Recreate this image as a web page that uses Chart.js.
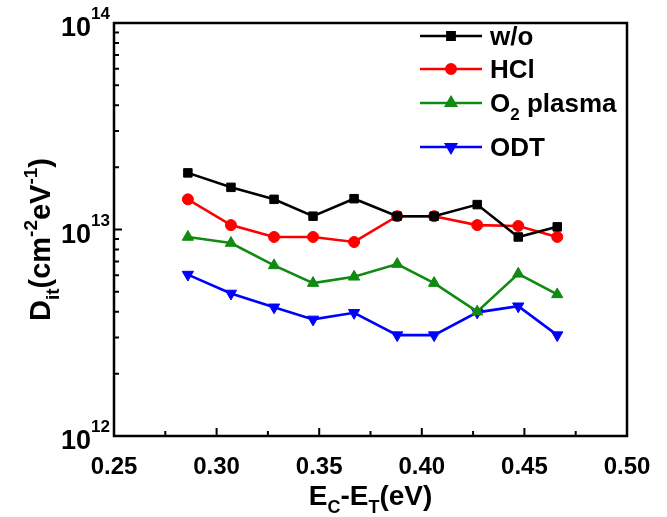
<!DOCTYPE html>
<html>
<head>
<meta charset="utf-8">
<script src="https://cdn.jsdelivr.net/npm/chart.js@4"></script>
<style>
html,body{margin:0;padding:0;background:#fff;}
#wrap{width:667px;height:517px;position:relative;}
</style>
</head>
<body>
<div id="wrap"><canvas id="c" width="667" height="517"></canvas></div>
<script>
// ---- data ----
const xValues = [0.286, 0.307, 0.328, 0.347, 0.367, 0.388, 0.406, 0.427, 0.447, 0.466];
const woValues = [1.88e13, 1.60e13, 1.40e13, 1.16e13, 1.41e13, 1.16e13, 1.16e13, 1.32e13, 9.2e12, 1.03e13];
const hclValues = [1.40e13, 1.05e13, 9.2e12, 9.2e12, 8.7e12, 1.16e13, 1.16e13, 1.05e13, 1.04e13, 9.2e12];
const o2Values = [9.2e12, 8.6e12, 6.7e12, 5.5e12, 5.9e12, 6.8e12, 5.5e12, 4.0e12, 6.1e12, 4.85e12];
const odtValues = [6.05e12, 4.9e12, 4.2e12, 3.67e12, 3.95e12, 3.08e12, 3.08e12, 3.97e12, 4.25e12, 3.08e12];
const seriesNames = ['w/o', 'HCl', 'O2 plasma', 'ODT'];
const xTickValues = [0.25, 0.30, 0.35, 0.40, 0.45, 0.50];
const xTickLabels = ['0.25', '0.30', '0.35', '0.40', '0.45', '0.50'];
const xMinorTicks = [0.275, 0.325, 0.375, 0.425, 0.475];
const yTickExponents = [12, 13, 14];

const FONT = "'Liberation Sans', Arial, sans-serif";
const colors = ['#000000', '#ff0000', '#108a10', '#0000ff'];
const styles = ['rect', 'circle', 'triangle', 'triangle'];
const rotations = [0, 0, 0, 180];
const radii = [6, 5.5, 6.5, 6.5];

function mk(vals, i) {
  return {
    label: seriesNames[i],
    data: xValues.map((x, k) => ({x: x, y: vals[k]})),
    borderColor: colors[i], backgroundColor: colors[i],
    borderWidth: 2.6, pointStyle: styles[i], pointRotation: rotations[i],
    pointRadius: radii[i], pointBorderWidth: 1, tension: 0
  };
}

// draw rich text: parts = [[text, 'n'|'sup'|'sub'], ...]
const SMALL = 0.64;
function richWidth(ctx, parts, size) {
  let w = 0;
  for (const [t, k] of parts) {
    ctx.font = 'bold ' + (k === 'n' ? size : Math.round(size * SMALL)) + 'px ' + FONT;
    w += ctx.measureText(t).width;
  }
  return w;
}
function drawRich(ctx, parts, x, y, size, align, supOff) {
  const w = richWidth(ctx, parts, size);
  let cx = align === 'center' ? x - w / 2 : (align === 'right' ? x - w : x);
  ctx.textBaseline = 'alphabetic';
  ctx.textAlign = 'left';
  for (const [t, k] of parts) {
    const s = k === 'n' ? size : Math.round(size * SMALL);
    ctx.font = 'bold ' + s + 'px ' + FONT;
    let dy = 0;
    if (k === 'sup') dy = -size * (supOff || 0.45);
    if (k === 'sub') dy = size * 0.3;
    ctx.fillText(t, cx, y + dy);
    cx += ctx.measureText(t).width;
  }
}

const decor = {
  id: 'decor',
  afterDraw(chart) {
    const ctx = chart.ctx;
    const a = chart.chartArea;
    const xs = chart.scales.x, ys = chart.scales.y;
    ctx.save();
    ctx.strokeStyle = '#000';
    ctx.fillStyle = '#000';
    ctx.lineWidth = 2.5;
    ctx.strokeRect(a.left, a.top, a.right - a.left, a.bottom - a.top);
    ctx.lineWidth = 2;
    ctx.beginPath();
    // x ticks inward
    xTickValues.forEach(v => {
      const p = xs.getPixelForValue(v);
      ctx.moveTo(p, a.bottom); ctx.lineTo(p, a.bottom - 8);
    });
    xMinorTicks.forEach(v => {
      const p = xs.getPixelForValue(v);
      ctx.moveTo(p, a.bottom); ctx.lineTo(p, a.bottom - 5);
    });
    // y ticks inward
    yTickExponents.forEach(e => {
      const p = ys.getPixelForValue(Math.pow(10, e));
      ctx.moveTo(a.left, p); ctx.lineTo(a.left + 8, p);
    });
    for (let e = yTickExponents[0]; e < yTickExponents[yTickExponents.length - 1]; e++) {
      for (let m = 2; m <= 9; m++) {
        const p = ys.getPixelForValue(m * Math.pow(10, e));
        ctx.moveTo(a.left, p); ctx.lineTo(a.left + 5, p);
      }
    }
    ctx.stroke();
    // x tick labels
    ctx.font = 'bold 24px ' + FONT;
    ctx.textAlign = 'center';
    ctx.textBaseline = 'top';
    xTickValues.forEach((v, i) => {
      ctx.fillText(xTickLabels[i], xs.getPixelForValue(v), a.bottom + 19);
    });
    // y tick labels
    yTickExponents.forEach(e => {
      const p = ys.getPixelForValue(Math.pow(10, e));
      drawRich(ctx, [['10', 'n'], [String(e), 'sup']], a.left - 4, p + 13, 27, 'right', 0.62);
    });
    // x title
    drawRich(ctx, [['E', 'n'], ['C', 'sub'], ['-E', 'n'], ['T', 'sub'], ['(eV)', 'n']],
      (a.left + a.right) / 2, 505, 28, 'center');
    // y title
    ctx.save();
    ctx.translate(50, (a.top + a.bottom) / 2 + 10);
    ctx.rotate(-Math.PI / 2);
    drawRich(ctx, [['D', 'n'], ['it', 'sub'], ['(cm', 'n'], ['-2', 'sup'], ['eV', 'n'], ['-1', 'sup'], [')', 'n']],
      0, 0, 29, 'center');
    ctx.restore();
    // legend
    const ly = [36, 69, 103, 147];
    const names = [[['w/o', 'n']], [['HCl', 'n']], [['O', 'n'], ['2', 'sub'], [' plasma', 'n']], [['ODT', 'n']]];
    chart.data.datasets.forEach((ds, i) => {
      ctx.strokeStyle = ds.borderColor;
      ctx.fillStyle = ds.backgroundColor;
      ctx.lineWidth = 2.6;
      ctx.beginPath();
      ctx.moveTo(420, ly[i]); ctx.lineTo(482, ly[i]);
      ctx.stroke();
      Chart.helpers.drawPoint(ctx, {pointStyle: ds.pointStyle, rotation: ds.pointRotation, radius: ds.pointRadius * 0.85, borderWidth: 1}, 451, ly[i]);
      ctx.fillStyle = '#000';
      drawRich(ctx, names[i], 490, ly[i] + 9, 26, 'left');
    });
    ctx.restore();
  }
};

new Chart(document.getElementById('c'), {
  type: 'line',
  data: { datasets: [mk(woValues, 0), mk(hclValues, 1), mk(o2Values, 2), mk(odtValues, 3)] },
  options: {
    responsive: false, animation: false, devicePixelRatio: 1,
    layout: { padding: { left: 114, top: 23, right: 40, bottom: 81 } },
    plugins: { legend: { display: false }, tooltip: { enabled: false } },
    scales: {
      x: { type: 'linear', min: 0.25, max: 0.5, display: false },
      y: { type: 'logarithmic', min: 1e12, max: 1e14, display: false }
    }
  },
  plugins: [decor]
});
</script>
</body>
</html>
